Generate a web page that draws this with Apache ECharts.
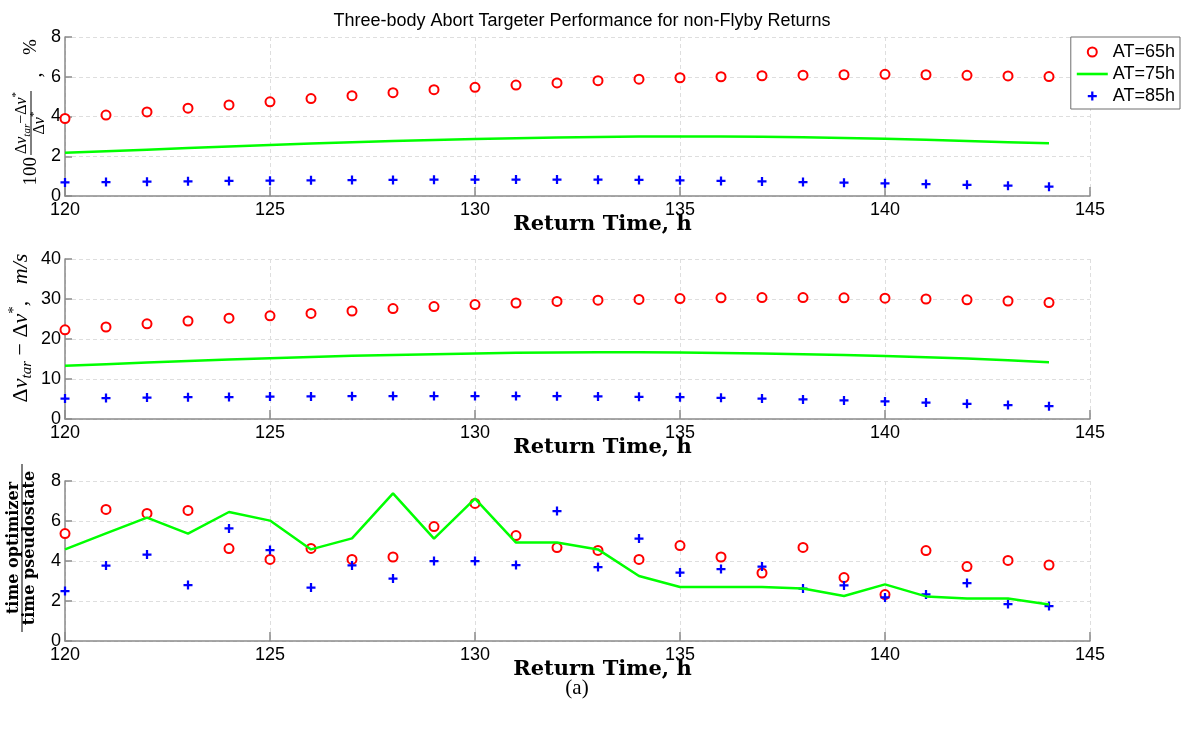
<!DOCTYPE html>
<html><head><meta charset="utf-8">
<script src="https://cdn.jsdelivr.net/npm/echarts@6/dist/echarts.min.js"></script>
<style>html,body{margin:0;padding:0;background:#fff}#c{width:1183px;height:729px}</style>
</head><body><div id="c"></div>
<script>
// ---------- data ----------
const hours = [120,121,122,123,124,125,126,127,128,129,130,131,132,133,134,135,136,137,138,139,140,141,142,143,144];
const seriesNames = ['AT=65h', 'AT=75h', 'AT=85h'];

// panel 1: 100*(dv_tar - dv*)/dv*, %
const pctAT65 = [3.9,4.07,4.23,4.42,4.58,4.74,4.9,5.05,5.2,5.35,5.47,5.58,5.69,5.8,5.88,5.95,6.0,6.05,6.08,6.1,6.12,6.1,6.07,6.04,6.01];
const pctAT75 = [2.17,2.25,2.33,2.41,2.49,2.57,2.64,2.71,2.77,2.82,2.87,2.91,2.94,2.97,2.99,3.0,2.99,2.98,2.95,2.92,2.88,2.83,2.77,2.71,2.65];
const pctAT85 = [0.68,0.70,0.72,0.74,0.76,0.77,0.79,0.80,0.81,0.82,0.83,0.83,0.83,0.82,0.81,0.79,0.76,0.73,0.70,0.67,0.64,0.60,0.56,0.52,0.47];

// panel 2: dv_tar - dv*, m/s
const dvAT65 = [22.3,23.0,23.8,24.5,25.2,25.8,26.4,27.0,27.6,28.1,28.6,29.0,29.4,29.7,29.9,30.1,30.3,30.35,30.35,30.3,30.2,30.0,29.8,29.5,29.1];
const dvAT75 = [13.3,13.7,14.1,14.5,14.9,15.2,15.5,15.8,16.0,16.2,16.4,16.55,16.65,16.7,16.7,16.65,16.5,16.35,16.2,16.0,15.75,15.45,15.1,14.7,14.2];
const dvAT85 = [5.1,5.25,5.35,5.45,5.5,5.6,5.65,5.7,5.75,5.75,5.75,5.75,5.7,5.65,5.55,5.45,5.3,5.1,4.9,4.65,4.4,4.1,3.8,3.5,3.2];

// panel 3: time optimizer / time pseudostate
const ratioAT65 = [5.37,6.58,6.38,6.53,4.62,4.08,4.63,4.08,4.2,5.72,6.88,5.27,4.67,4.53,4.08,4.77,4.2,3.4,4.68,3.17,2.32,4.52,3.72,4.03,3.8];
const ratioAT75 = [4.58,5.38,6.17,5.37,6.45,6.02,4.58,5.13,7.38,5.12,7.12,4.92,4.92,4.58,3.25,2.7,2.7,2.7,2.63,2.25,2.83,2.23,2.12,2.12,1.82];
const ratioAT85 = [2.5,3.77,4.32,2.8,5.63,4.55,2.67,3.78,3.12,4.0,4.0,3.8,6.5,3.7,5.12,3.42,3.6,3.72,2.62,2.78,2.18,2.33,2.9,1.85,1.75];

const panels = [
  {a: pctAT65, b: pctAT75, c: pctAT85, max: 8, interval: 2},
  {a: dvAT65, b: dvAT75, c: dvAT85, max: 40, interval: 10},
  {a: ratioAT65, b: ratioAT75, c: ratioAT85, max: 8, interval: 2}
];

// ---------- styling ----------
const tops = [37, 259, 481];
const plotH = [159, 160, 160];
const axisGray = '#8a8a8a';
const plusPath = 'path://M-1,-4H1V-1H4V1H1V4H-1V1H-4V-1H-1Z';
const linePath = 'path://M0,0H31V2.6H0Z';
const serif = 'Liberation Serif';
const sans = 'Liberation Sans';

const grids = [], xAxes = [], yAxes = [], series = [];
panels.forEach((p, k) => {
  grids.push({left: 65, right: 93, top: tops[k], height: plotH[k], outerBoundsMode: 'none'});
  xAxes.push({
    type: 'value', gridIndex: k, min: 120, max: 145, interval: 5,
    name: 'Return Time, h', nameLocation: 'middle', nameGap: 18, nameMoveOverlap: false,
    nameTextStyle: {fontFamily: 'DejaVu Serif', fontWeight: 'bold', fontSize: 21, color: '#000', padding: [0, 0, 0, 50]},
    axisLine: {show: true, lineStyle: {color: axisGray, width: 1.5}},
    axisTick: {show: true, inside: true, length: 9, lineStyle: {color: axisGray, width: 1.5}},
    axisLabel: {margin: 5, fontFamily: sans, fontSize: 18, color: '#000'},
    splitLine: {show: true, lineStyle: {type: [4, 3], color: '#dedede', width: 1}}
  });
  yAxes.push({
    type: 'value', gridIndex: k, min: 0, max: p.max, interval: p.interval,
    axisLine: {show: true, lineStyle: {color: axisGray, width: 1.5}},
    axisTick: {show: true, inside: true, length: 7, lineStyle: {color: axisGray, width: 1.5}},
    axisLabel: {margin: 4, fontFamily: sans, fontSize: 18, color: '#000'},
    splitLine: {show: true, lineStyle: {type: [4, 3], color: '#dedede', width: 1}}
  });
  const pair = arr => hours.map((h, i) => [h, arr[i]]);
  series.push({
    name: seriesNames[0], type: 'scatter', xAxisIndex: k, yAxisIndex: k,
    symbol: 'emptyCircle', symbolSize: 9,
    itemStyle: {color: '#ff0000', borderColor: '#ff0000', borderWidth: 2, opacity: 1},
    emphasis: {disabled: true},
    data: pair(p.a)
  });
  series.push({
    name: seriesNames[1], type: 'line', xAxisIndex: k, yAxisIndex: k,
    symbol: 'none', showSymbol: false,
    lineStyle: {color: '#00ff00', width: 2.5, opacity: 1},
    itemStyle: {color: '#00ff00'},
    emphasis: {disabled: true},
    data: pair(p.b)
  });
  series.push({
    name: seriesNames[2], type: 'scatter', xAxisIndex: k, yAxisIndex: k,
    symbol: plusPath, symbolSize: 9,
    itemStyle: {color: '#0000ff', opacity: 1},
    emphasis: {disabled: true},
    data: pair(p.c)
  });
});

// ---------- y-axis labels (math-style, rotated) ----------
const mathRich = (fs, ss) => ({
  n: {fontFamily: serif, fontSize: fs, lineHeight: fs + 6, color: '#000'},
  i: {fontFamily: serif, fontStyle: 'italic', fontSize: fs, lineHeight: fs + 6, color: '#000'},
  s: {fontFamily: serif, fontStyle: 'italic', fontSize: ss, lineHeight: ss + 1, verticalAlign: 'bottom', color: '#000'},
  p: {fontFamily: serif, fontSize: ss, lineHeight: ss + 1, verticalAlign: 'top', color: '#000'}
});
const ROT = Math.PI / 2;
const graphics = [
  // panel 1 label: 100 * (dv_tar - dv*)/dv* , %
  {type: 'group', x: 31, y: 123, rotation: ROT, children: [
    {type: 'text', x: -34, y: 0, style: {text: '100', fontFamily: serif, fontSize: 19, fill: '#000', align: 'right', verticalAlign: 'middle'}},
    {type: 'text', x: 0, y: -9, style: {text: '{n|Δ}{i|v}{s|tar}{n|−Δ}{i|v}{p|*}', rich: mathRich(16, 11), align: 'center', verticalAlign: 'middle'}},
    {type: 'line', shape: {x1: -32, y1: 0, x2: 32, y2: 0}, style: {stroke: '#000', lineWidth: 1}},
    {type: 'text', x: 0, y: 9, style: {text: '{n|Δ}{i|v}{p|*}', rich: mathRich(16, 11), align: 'center', verticalAlign: 'middle'}},
    {type: 'text', x: 48, y: 5, style: {text: ',', fontFamily: serif, fontSize: 20, fill: '#000', align: 'center', verticalAlign: 'middle'}},
    {type: 'text', x: 76, y: 0, style: {text: '%', fontFamily: serif, fontSize: 19, fill: '#000', align: 'center', verticalAlign: 'middle'}}
  ]},
  // panel 2 label: dv_tar - dv*,  m/s
  {type: 'group', x: 21, y: 328, rotation: ROT, children: [
    {type: 'text', x: 0, y: 0, style: {text: '{n|Δ}{i|v}{s|tar}{n| − Δ}{i|v}{p|*}{n|,   }{i|m/s}', rich: mathRich(22, 15), align: 'center', verticalAlign: 'middle'}}
  ]},
  // panel 3 label: time optimizer / time pseudostate
  {type: 'group', x: 21, y: 548, rotation: ROT, children: [
    {type: 'text', x: 0, y: -7, style: {text: 'time optimizer', fontFamily: 'DejaVu Serif', fontWeight: 'bold', fontSize: 16, fill: '#000', align: 'center', verticalAlign: 'middle'}},
    {type: 'line', shape: {x1: -84, y1: 1, x2: 84, y2: 1}, style: {stroke: '#000', lineWidth: 1}},
    {type: 'text', x: 0, y: 9, style: {text: 'time pseudostate', fontFamily: 'DejaVu Serif', fontWeight: 'bold', fontSize: 16, fill: '#000', align: 'center', verticalAlign: 'middle'}}
  ]},
  // caption
  {type: 'text', x: 577, y: 688, style: {text: '(a)', fontFamily: serif, fontSize: 21, fill: '#000', align: 'center', verticalAlign: 'middle'}}
];

const chart = echarts.init(document.getElementById('c'), null, {renderer: 'canvas'});
chart.setOption({
  animation: false,
  backgroundColor: '#fff',
  title: {
    text: 'Three-body Abort Targeter Performance for non-Flyby Returns',
    left: 577, top: 7, textAlign: 'center',
    textStyle: {fontFamily: sans, fontWeight: 'normal', fontSize: 18, color: '#000'}
  },
  legend: {
    data: [
      {name: seriesNames[0]},
      {name: seriesNames[1], icon: linePath},
      {name: seriesNames[2]}
    ],
    orient: 'vertical', right: 3, top: 37,
    backgroundColor: '#fff', borderColor: '#6e6e6e', borderWidth: 1, borderRadius: 0,
    padding: [6, 5, 4, 6], itemGap: 4, itemWidth: 31, itemHeight: 9,
    textStyle: {fontFamily: sans, fontSize: 18, color: '#000'}
  },
  grid: grids, xAxis: xAxes, yAxis: yAxes, series: series,
  graphic: graphics
});
</script></body></html>
